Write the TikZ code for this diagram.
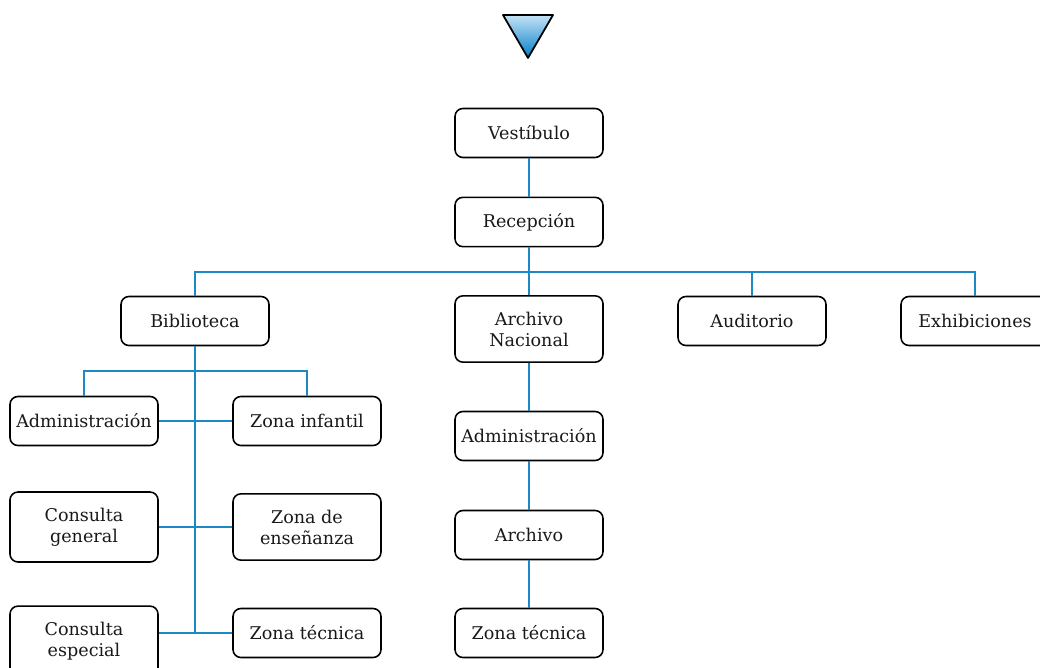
\documentclass[tikz,border=0pt]{standalone}
\usepackage{fontspec}
\setmainfont{DejaVu Serif}
\definecolor{linkblue}{RGB}{28,136,198}
\definecolor{tritop}{RGB}{196,226,246}
\definecolor{tribot}{RGB}{0,126,198}
\tikzset{box/.style={draw,rounded corners=4.5pt,line width=0.9pt,fill=white,align=center,text=black!90,minimum width=2.96cm,minimum height=0.98cm,inner xsep=2pt,inner ysep=9pt,font=\fontsize{10}{12}\selectfont}}
\tikzset{link/.style={draw=linkblue,line width=1.1pt}}

\begin{document}
\begin{tikzpicture}[x=0.02cm,y=-0.02cm]
    \useasboundingbox (0,0) rectangle (1040,668);
    \shade[top color=tritop,bottom color=tribot] (503,15) -- (553,15) -- (528,58) -- cycle;
    \draw[line width=1pt,line join=round] (503,15) -- (553,15) -- (528,58) -- cycle;
    \node[box] (v) at (529,133) {Vestíbulo};
    \node[box] (r) at (529,222) {Recepción};
    \node[box] (b) at (195,321) {Biblioteca};
    \node[box] (an) at (529,329) {Archivo\\Nacional};
    \node[box] (au) at (752,321) {Auditorio};
    \node[box] (ex) at (975,321) {Exhibiciones};
    \node[box] (ba) at (84,421) {Administración};
    \node[box] (bz) at (307,421) {Zona infantil};
    \node[box] (cg) at (84,527) {Consulta\\general};
    \node[box] (ze) at (307,527) {Zona de\\enseñanza};
    \node[box] (ce) at (84,641) {Consulta\\especial};
    \node[box] (zt) at (307,633) {Zona técnica};
    \node[box] (aa) at (529,436) {Administración};
    \node[box] (ar) at (529,535) {Archivo};
    \node[box] (az) at (529,633) {Zona técnica};
    \coordinate (bus) at (529,272);
    \coordinate (bb) at (195,371);
    \coordinate (bt) at (195,633);
    \draw[link] (v) -- (r);
    \draw[link] (r) -- (bus);
    \draw[link] (bus) -| (b);
    \draw[link] (bus) -| (au);
    \draw[link] (bus) -| (ex);
    \draw[link] (bus) -- (an);
    \draw[link] (b) -- (bt);
    \draw[link] (bb) -| (ba);
    \draw[link] (bb) -| (bz);
    \draw[link] (ba) -- (bz);
    \draw[link] (cg) -- (ze);
    \draw[link] (ce.east |- zt) -- (zt);
    \draw[link] (an) -- (aa);
    \draw[link] (aa) -- (ar);
    \draw[link] (ar) -- (az);
  \end{tikzpicture}
\end{document}
